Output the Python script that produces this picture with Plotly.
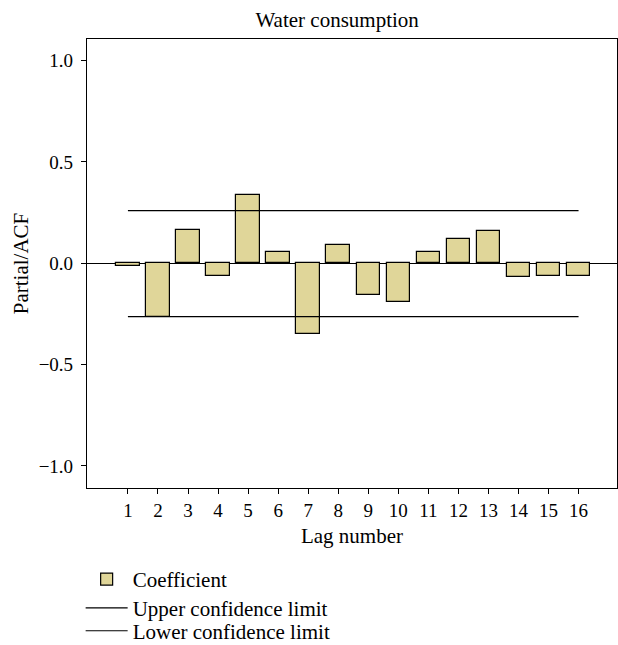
import plotly.graph_objects as go

lags = list(range(1, 17))
coefficients = [-0.013, -0.263, 0.165, -0.063, 0.336, 0.056, -0.349, 0.091,
                -0.156, -0.193, 0.056, 0.119, 0.158, -0.068, -0.063, -0.064]
upper_limit = [0.26, 0.26]
lower_limit = [-0.263, -0.263]
limit_lags = [1, 16]
ytick_vals = [-1.0, -0.5, 0.0, 0.5, 1.0]

FONT = "Liberation Serif, Times New Roman, serif"
fs_tick = 19
fs_text = 21

fig = go.Figure()
fig.add_trace(go.Bar(
    x=lags, y=coefficients, name="Coefficient", width=0.78,
    marker=dict(color="rgb(224,214,153)", line=dict(color="black", width=1.2)),
    legend="legend",
))
fig.add_trace(go.Scatter(
    x=limit_lags, y=upper_limit, mode="lines", name="Upper confidence limit",
    line=dict(color="black", width=1.2), legend="legend2",
))
fig.add_trace(go.Scatter(
    x=limit_lags, y=lower_limit, mode="lines", name="Lower confidence limit",
    line=dict(color="black", width=1.2), legend="legend3",
))

leg_common = dict(x=-0.012, xanchor="left", yanchor="top",
                  bgcolor="rgba(0,0,0,0)",
                  font=dict(family=FONT, size=fs_text, color="black"),
                  itemwidth=42, tracegroupgap=0)

fig.update_layout(
    width=618, height=645,
    margin=dict(l=87.3, r=1, t=39.3, b=157.3, autoexpand=False),
    plot_bgcolor="white", paper_bgcolor="white",
    font=dict(family=FONT, size=fs_tick, color="black"),
    title=dict(text="Water consumption", x=0.472, xref="paper", xanchor="center",
               y=1 - 20 / 645, yref="container", yanchor="middle",
               font=dict(family=FONT, size=fs_text, color="black")),
    showlegend=True,
    legend=dict(y=-0.158, **leg_common),
    legend2=dict(y=-0.222, **leg_common),
    legend3=dict(y=-0.273, **leg_common),
    bargap=0,
)
fig.update_xaxes(
    range=[-0.362, 17.28], tickvals=lags, ticktext=[str(v) for v in lags],
    ticks="outside", ticklen=5, tickcolor="black", tickwidth=1,
    ticklabelstandoff=0,
    showline=True, linecolor="black", linewidth=1.2, mirror=True,
    showgrid=False, zeroline=False, automargin=False,
    title=dict(text="Lag number", font=dict(family=FONT, size=fs_text), standoff=8),
    tickfont=dict(family=FONT, size=fs_tick),
)
fig.update_yaxes(
    range=[-1.109, 1.107], tickvals=ytick_vals, tickformat=".1f",
    ticks="outside", ticklen=5, tickcolor="black", tickwidth=1,
    ticklabelstandoff=4,
    showline=True, linecolor="black", linewidth=1.2, mirror=True,
    showgrid=False, zeroline=True, zerolinecolor="black", zerolinewidth=1.2,
    automargin=False,
    title=dict(text="Partial/ACF", font=dict(family=FONT, size=fs_text), standoff=4),
    tickfont=dict(family=FONT, size=fs_tick),
)

fig.write_html(
    "out.html",
    config={"displayModeBar": False},
    post_script="document.body.style.margin='0';document.body.style.overflow='hidden';",
)
